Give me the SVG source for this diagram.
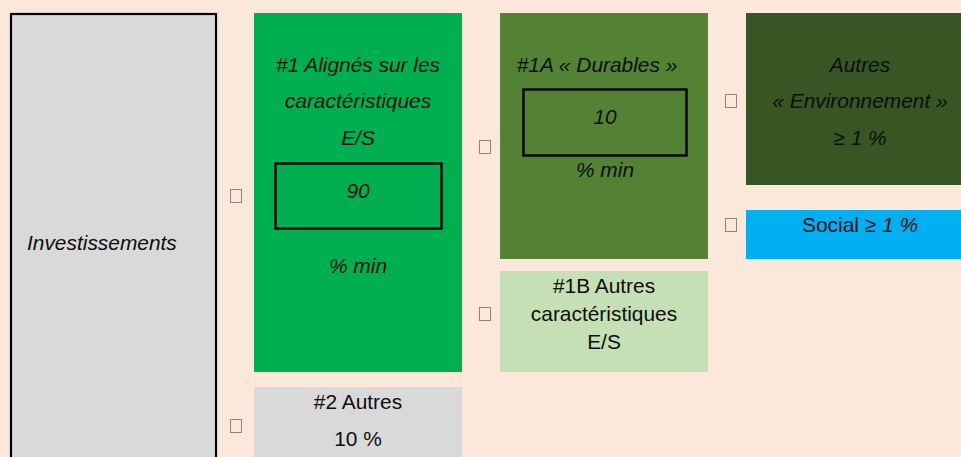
<svg xmlns="http://www.w3.org/2000/svg" width="961" height="457" viewBox="0 0 961 457">
<style>
text{font-family:"Liberation Sans",Arial,sans-serif;font-size:20.9px;fill:#0d0d0d;text-anchor:middle}
.i{font-style:italic}
.tofu{fill:none;stroke:#8c827b;stroke-width:1}
.frame{fill:none;stroke:#000;stroke-width:2.4}
</style>
<rect x="0" y="0" width="961" height="457" fill="#FBE8DA"/>
<g id="investissements">
<rect x="11" y="14" width="205" height="450" fill="#D9D9D9" stroke="#000" stroke-width="2.2"/>
<text class="i" x="27" y="250" style="text-anchor:start">Investissements</text>
</g>
<g id="n1">
<rect x="254" y="13" width="208" height="359" fill="#00B050"/>
<text class="i" x="358" y="72">#1 Alignés sur les</text>
<text class="i" x="358" y="108">caractéristiques</text>
<text class="i" x="358" y="145">E/S</text>
<rect class="frame" x="275.5" y="163.5" width="166" height="65"/>
<text class="i" x="358" y="198">90</text>
<text class="i" x="358" y="273">% min</text>
</g>
<g id="n2">
<rect x="254" y="387" width="208" height="75" fill="#D9D9D9"/>
<text x="358" y="409">#2 Autres</text>
<text x="358" y="446">10 %</text>
</g>
<g id="n1a">
<rect x="500" y="13" width="208" height="246" fill="#548235"/>
<text class="i" x="597" y="72">#1A « Durables »</text>
<rect class="frame" x="523.5" y="89.5" width="163" height="66"/>
<text class="i" x="605" y="124">10</text>
<text class="i" x="605" y="177">% min</text>
</g>
<g id="n1b">
<rect x="500" y="271" width="208" height="101" fill="#C5E0B4"/>
<text x="604" y="293">#1B Autres</text>
<text x="604" y="321">caractéristiques</text>
<text x="604" y="349">E/S</text>
</g>
<g id="env">
<rect x="746" y="13" width="220" height="172" fill="#375623"/>
<text class="i" x="860" y="72">Autres</text>
<text class="i" x="860" y="108">« Environnement »</text>
<text class="i" x="860" y="145">≥ 1 %</text>
</g>
<g id="social">
<rect x="746" y="210" width="220" height="49" fill="#00B0F0"/>
<text x="860" y="232">Social ≥ <tspan class="i">1 %</tspan></text>
</g>
<g id="connectors">
<rect class="tofu" x="230.5" y="189.5" width="11" height="13"/>
<rect class="tofu" x="230.5" y="419.5" width="11" height="13"/>
<rect class="tofu" x="479.5" y="140.5" width="11" height="13"/>
<rect class="tofu" x="479.5" y="307.5" width="11" height="13"/>
<rect class="tofu" x="725.5" y="94.5" width="11" height="13"/>
<rect class="tofu" x="725.5" y="218.5" width="11" height="13"/>
</g>
</svg>
